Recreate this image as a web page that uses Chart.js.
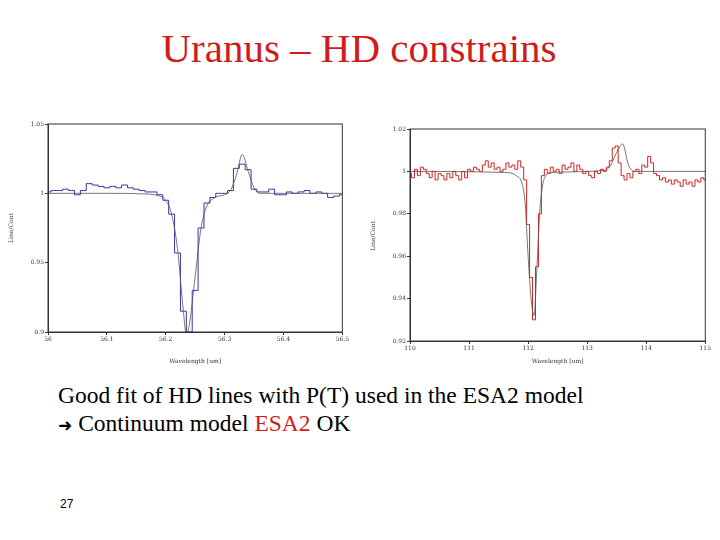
<!DOCTYPE html>
<html>
<head>
<meta charset="utf-8">
<script src="https://cdn.jsdelivr.net/npm/chart.js@4/dist/chart.umd.min.js"></script>
<style>
  body { margin: 0; width: 720px; height: 540px; background: #fff; position: relative; overflow: hidden; font-family: "Liberation Serif", serif; }
  #title { position: absolute; top: 24px; left: 0; width: 718px; text-align: center; color: #d01c1c; font-size: 41px; }
  .txt { position: absolute; left: 58px; font-size: 23.5px; color: #000; }
  #page { position: absolute; left: 60px; top: 497px; font-size: 12px; font-family: "Liberation Sans", sans-serif; }
  .box { position: absolute; }
</style>
</head>
<body>
<div id="title">Uranus – HD constrains</div>
<div class="box" style="left:0;top:110px;width:350px;height:255px"><canvas id="leftChart"></canvas></div>
<div class="box" style="left:362px;top:115px;width:350px;height:250px"><canvas id="rightChart"></canvas></div>
<div class="txt" style="top:382px">Good fit of HD lines with P(T) used in the ESA2 model</div>
<div class="txt" style="top:410px"><span style="font-family:'DejaVu Sans';font-size:17px">&#10140;</span> Continuum model <span style="color:#d01c1c">ESA2</span> OK</div>
<div id="page">27</div>
<script>
// 56 um line
const leftObsX = [56.00,56.01,56.02,56.03,56.04,56.05,56.06,56.07,56.08,56.09,56.10,56.11,56.12,56.13,56.14,56.15,56.16,56.17,56.18,56.19,56.20,56.21,56.22,56.23,56.24,56.25,56.26,56.27,56.28,56.29,56.30,56.31,56.32,56.33,56.34,56.35,56.36,56.37,56.38,56.39,56.40,56.41,56.42,56.43,56.44,56.45,56.46,56.47,56.48,56.49,56.50];
const leftObsY = [1.001,1.002,1.002,1.003,1.002,0.999,1.002,1.007,1.006,1.005,1.004,1.005,1.004,1.006,1.004,1.003,1.002,1.001,1.001,0.999,0.995,0.985,0.957,0.915,0.900,0.930,0.975,0.993,0.997,1.000,1.000,1.002,1.018,1.021,1.017,1.003,1.001,1.001,1.003,0.999,0.999,1.001,1.000,1.001,1.002,1.000,1.001,1.000,0.997,0.998,0.999];
const leftModX = [56.00,56.10,56.17,56.18,56.19,56.20,56.21,56.22,56.23,56.235,56.24,56.25,56.26,56.27,56.28,56.29,56.30,56.31,56.32,56.33,56.34,56.35,56.36,56.40,56.50];
const leftModY = [1.000,1.000,0.9995,0.999,0.998,0.995,0.985,0.960,0.915,0.898,0.905,0.940,0.975,0.991,0.996,0.998,0.999,1.002,1.013,1.028,1.016,1.004,1.000,1.000,1.000];
const leftTicks = [0.9, 0.95, 1, 1.05];

// 112 um line
const rightObsX = [];
for (let i = 0; i <= 100; i++) rightObsX.push(110 + i * 0.05);
const rightObsY = [0.999,0.997,1.001,0.998,1.002,1.001,0.999,0.997,1.000,0.996,0.999,0.998,0.996,0.999,0.997,1.000,0.998,0.996,1.000,0.997,1.001,1.000,1.002,1.001,1.000,1.003,1.005,1.002,1.004,1.001,1.002,1.000,1.001,1.004,1.002,1.003,1.001,1.005,1.002,0.996,0.975,0.950,0.930,0.955,0.980,0.998,1.001,0.999,1.002,1.000,1.001,0.999,1.003,1.001,1.002,1.004,1.000,1.003,1.001,0.999,1.000,0.998,0.997,1.000,0.999,1.001,1.000,1.002,1.005,1.011,1.012,1.004,0.998,0.996,0.999,0.997,1.000,1.001,0.999,1.003,1.002,1.007,1.004,0.999,0.998,0.996,0.997,0.995,0.996,0.994,0.996,0.995,0.993,0.996,0.994,0.995,0.993,0.996,0.995,0.997,0.996];
const rightModX = [110.0,111.6,111.8,111.9,111.95,112.0,112.05,112.1,112.15,112.2,112.25,112.3,112.4,113.3,113.4,113.5,113.6,113.7,113.8,115.0];
const rightModY = [1.000,0.9995,0.998,0.994,0.985,0.960,0.940,0.932,0.955,0.982,0.994,0.998,0.9995,1.0005,1.003,1.009,1.013,1.003,1.000,1.000];
const rightTicks = [0.92, 0.94, 0.96, 0.98, 1, 1.02];

function pts(xs, ys) { return xs.map((x, i) => ({ x: x, y: ys[i] })); }

function makeChart(id, obsX, obsY, modX, modY, color, xr, xstep, yr, yticks, yLabel, pad, xH) {
  const tickFont = { family: 'DejaVu Serif', size: 6 };
  new Chart(document.getElementById(id), {
    type: 'scatter',
    data: {
      datasets: [
        { data: pts(modX, modY), showLine: true, borderColor: '#555', borderWidth: 0.8, pointRadius: 0, cubicInterpolationMode: 'monotone' },
        { data: pts(obsX, obsY), showLine: true, stepped: 'middle', borderColor: color, borderWidth: 1, pointRadius: 0 }
      ]
    },
    options: {
      animation: false, responsive: true, maintainAspectRatio: false,
      layout: { padding: pad },
      plugins: { legend: { display: false }, tooltip: { enabled: false } },
      scales: {
        x: {
          type: 'linear', min: xr[0], max: xr[1],
          border: { color: '#333' },
          grid: { drawOnChartArea: false, tickLength: 3, color: '#333' },
          ticks: { stepSize: xstep, font: tickFont, color: '#333', padding: 1, callback: v => String(Number(v.toFixed(2))) },
          title: { display: true, text: 'Wavelength [um]', font: tickFont, color: '#333', padding: 0 },
          afterFit: a => { a.height = xH; }
        },
        y: {
          min: yr[0], max: yr[1],
          border: { color: '#333' },
          grid: { drawOnChartArea: false, tickLength: 3, color: '#333' },
          afterBuildTicks: a => { a.ticks = yticks.map(v => ({ value: v })); },
          ticks: { font: tickFont, color: '#333', padding: 1, callback: v => String(Number(v.toFixed(3))) },
          title: { display: true, text: yLabel, font: tickFont, color: '#333', padding: 2 },
          afterFit: a => { a.width = 48 - pad.left; }
        }
      }
    },
    plugins: [{
      id: 'frame',
      afterDraw: c => {
        const a = c.chartArea, g = c.ctx;
        g.save(); g.strokeStyle = '#333'; g.lineWidth = 1;
        g.strokeRect(a.left, a.top, a.right - a.left, a.bottom - a.top);
        g.restore();
      }
    }]
  });
}

makeChart('leftChart', leftObsX, leftObsY, leftModX, leftModY, '#3535a8', [56, 56.5], 0.1, [0.9, 1.05], leftTicks, 'Line/Cont', { left: 6, right: 7, top: 14, bottom: 0 }, 33);
makeChart('rightChart', rightObsX, rightObsY, rightModX, rightModY, '#d42020', [110, 115], 1, [0.92, 1.02], rightTicks, 'Line/Cont.', { left: 6, right: 5, top: 14, bottom: 0 }, 24);
</script>
</body>
</html>
